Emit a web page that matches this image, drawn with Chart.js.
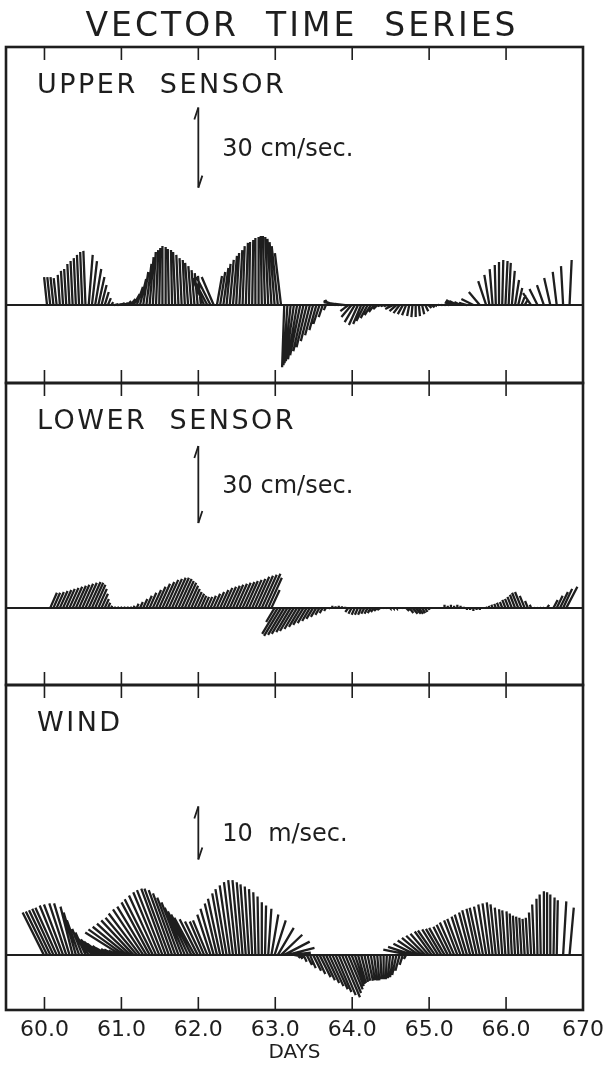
<!DOCTYPE html>
<html>
<head>
<meta charset="utf-8">
<title>Vector time series</title>
<script src="https://cdn.jsdelivr.net/npm/chart.js@4.4.1/dist/chart.umd.min.js"></script>
<style>
	html, body { margin: 0; padding: 0; background: #fff; }
	#wrap { width: 613px; height: 1085px; }
</style>
</head>
<body>
<div id="wrap"><canvas id="vectorChart" width="613" height="1085"></canvas></div>
<script>
(() => {
	'use strict'

	// hourly vectors, first sample at day 59.70
	const startDay = 59.7;
	const stepDays = 1 / 24;

	const dayTicks = [60, 61, 62, 63, 64, 65, 66, 67];
	const dayLabels = ['60.0', '61.0', '62.0', '63.0', '64.0', '65.0', '66.0', '670'];

	// upper sensor, cm/sec (east, north)
	const upperU = [
		null, null, null, null, null, null, null, null, -1.1, -1.1, -1.1, -1.1,
		-0.8, -0.8, -0.8, -0.8, -0.8, -0.8, -0.8, -0.8, -0.8, 1.5, 1.9, 2.3,
		2.3, 1.9, 1.5, 1.1, 0.8, 1.5, 1.5, 1.5, 1.5, 1.5, 1.9, 2.3,
		2.3, 2.3, 1.9, 1.9, 1.5, 1.1, 0.8, 0.4, 0, 0, -0.4, -0.4,
		-0.8, -0.8, -0.8, -0.8, -1.1, -1.1, -1.1, -1.1, -1.1, -4.5, -5.3, -5.3,
		-4.5, 1.9, 1.9, 1.9, 1.5, 1.5, 1.5, 1.1, 1.1, 0.8, 0.8, 0.4,
		0.4, 0, 0, -0.4, -0.8, -1.1, -1.5, -1.9, -2.3, -2.3, -0.8, -1.5,
		-2.3, -3.0, -3.4, -3.8, -3.8, -3.8, -3.4, -3.0, -2.6, -2.3, -1.5, -0.8,
		-1.5, -3.0, -4.5, -5.6, -5.3, -3.8, -3.0, -3.8, -3.8, -3.4, -3.0, -3.0,
		-2.6, -2.3, -1.9, -1.5, -1.1, -1.1, -1.1, -1.1, -3.0, -2.6, -2.3, -1.9,
		-1.5, -0.8, -0.4, 0, 0.4, 0.8, 1.1, 1.1, 1.1, 0.8, 0.4, 0.4,
		0.4, 0.4, -2.3, -3.0, -3.0, -2.3, -1.5, -3.0, null, -4.5, null, -4.1,
		null, -3.0, -1.9, -1.1, -0.4, 0, 0.4, 0.8, 0.8, 1.1, 1.5, 1.5,
		1.5, 1.1, null, -3.0, null, -3.0, null, -2.6, null, -2.3, null, -1.5,
		null, -0.8, null, 0.8, null
	];
	const upperV = [
		null, null, null, null, null, null, null, null, 10.5, 10.5, 10.5, 10.1,
		11.3, 12.8, 13.5, 15.4, 16.5, 17.6, 18.8, 19.9, 20.3, 18.8, 16.5, 13.5,
		10.5, 7.5, 4.9, 2.6, 1.1, 0.4, 0.4, 0.8, 0.8, 1.5, 2.3, 4.1,
		6.8, 9.8, 12.4, 15.4, 18.0, 19.9, 20.6, 21.4, 22.1, 21.8, 21.0, 20.6,
		19.9, 18.8, 17.6, 16.9, 15.8, 14.6, 13.1, 12.0, 10.9, 10.1, 10.1, 10.5,
		10.5, 10.9, 12.4, 13.9, 15.4, 16.9, 18.4, 19.5, 20.6, 22.1, 23.3, 23.6,
		24.4, 25.1, 25.5, 25.9, 25.9, 25.5, 24.8, 23.6, 22.1, 19.5, -23.3, -22.5,
		-21.8, -21.0, -20.3, -18.8, -17.3, -15.8, -13.5, -11.3, -9.4, -7.1, -4.5, -1.9,
		1.9, 1.5, 1.5, 1.1, 0.8, 0.4, -2.3, -4.5, -6.4, -7.5, -7.1, -6.0,
		-4.9, -3.8, -2.6, -1.5, -0.4, -0.4, -0.4, -0.4, -1.5, -2.3, -3.0, -3.4,
		-3.8, -4.1, -4.5, -4.5, -4.1, -3.4, -2.3, -1.1, -0.8, -0.4, 0.1, 0.1,
		0.1, 0.1, 1.1, 1.9, 1.5, 1.1, 0.8, 0.8, null, 2.3, null, 4.9,
		null, 9.0, 11.3, 13.5, 15.0, 16.1, 16.9, 16.5, 15.8, 12.8, 9.4, 6.4,
		3.8, 1.9, null, 4.5, null, 6.0, null, 7.5, null, 10.1, null, 12.4,
		null, 14.6, null, 16.9, null
	];

	// lower sensor, cm/sec
	const lowerU = [
		null, null, null, null, null, null, null, null, null, 2.6, 2.6, 2.8,
		3.0, 3.2, 3.3, 3.5, 3.7, 3.9, 4.0, 4.2, 4.4, 4.6, 4.4, 4.0,
		3.3, 2.5, 1.6, 0.9, 0.4, 0.6, 0.6, 0.6, 0.6, 0.6, 0.6, 0.4,
		0.7, 1.1, 1.6, 2.1, 2.6, 3.2, 3.7, 4.2, 4.6, 4.9, 5.1, 5.3,
		5.3, 5.1, 4.7, 4.4, 3.9, 3.3, 2.8, 2.5, 2.1, 1.9, 1.9, 2.1,
		2.5, 2.8, 3.2, 3.5, 3.7, 3.9, 4.0, 4.2, 4.4, 4.6, 4.7, 4.9,
		5.1, 5.4, 5.6, 5.8, 6.0, 5.3, 3.2, -3.3, -6.1, -6.6, -6.3, -6.1,
		-5.6, -5.4, -4.9, -4.4, -4.0, -3.5, -3.0, -2.6, -2.1, -1.6, -1.2, -0.7,
		-0.2, 0, 0, 0, 0, 0, -1.2, -1.2, -1.2, -1.2, -1.2, -1.2,
		-1.2, -1.2, -1.2, -1.2, -1.2, 0.2, 0.2, 0.2, 0.2, 0.2, 0.2, 0.2,
		1.2, 1.6, 2.0, 2.0, 1.6, 1.2, 0.8, 0.4, 0, 0, 0, 0,
		0, 0, 0, 0, 0, 0, 0, 0, 0, 0, 0, 0,
		0, -0.2, -0.3, -0.5, -0.6, -0.8, -0.9, -1.2, -1.4, -1.7, -2.0, -2.4,
		-2.5, -1.9, -1.1, -0.5, 0.2, 0.2, 0.2, 0.2, 0.8, null, 1.6, 2.3,
		3.1, 3.5, 4.3, null, null
	];
	const lowerV = [
		null, null, null, null, null, null, null, null, null, 5.9, 5.9, 6.2,
		6.6, 7.0, 7.4, 7.8, 8.2, 8.6, 9.0, 9.4, 9.8, 10.1, 9.8, 9.0,
		7.4, 5.5, 3.5, 2.0, 0.8, 0.2, 0.2, 0.2, 0.2, 0.2, 0.2, 0.8,
		1.6, 2.3, 3.5, 4.7, 5.9, 7.0, 8.2, 9.4, 10.1, 10.9, 11.3, 11.7,
		11.7, 11.3, 10.5, 9.8, 8.6, 7.4, 6.2, 5.5, 4.7, 4.3, 4.3, 4.7,
		5.5, 6.2, 7.0, 7.8, 8.2, 8.6, 9.0, 9.4, 9.8, 10.1, 10.5, 10.9,
		11.3, 12.1, 12.5, 12.9, 13.3, 11.7, 7.0, -5.5, -10.1, -10.9, -10.5, -10.1,
		-9.4, -9.0, -8.2, -7.4, -6.6, -5.9, -5.1, -4.3, -3.5, -2.7, -2.0, -1.2,
		-0.4, 0.8, 0.6, 0.8, 0.6, 0.4, -1.6, -2.3, -2.7, -2.7, -2.7, -2.3,
		-2.3, -2.0, -1.6, -1.2, -0.8, -0.2, -0.2, -0.2, -0.2, -0.2, -0.2, -0.2,
		-1.2, -2.0, -2.3, -2.3, -2.3, -2.0, -1.6, -0.8, -0.4, -0.4, -0.4, -0.4,
		1.2, 0.8, 1.2, 0.8, 1.2, 0.8, 0.4, -0.8, -0.8, -1.2, -0.8, -0.8,
		-0.4, 0.4, 0.8, 1.2, 1.6, 2.0, 2.3, 3.1, 3.5, 4.3, 5.1, 5.9,
		6.2, 4.7, 2.7, 1.2, 0.2, 0.2, 0.2, 0.2, 1.2, null, 3.1, 4.7,
		6.2, 7.4, 8.2, null, null
	];

	// wind, m/sec
	const windU = [
		null, null, null, null, null, null, null, -4.0, -4.0, -4.0, -4.0, -4.0,
		-3.8, -3.6, -3.2, -2.9, -2.3, -2.3, -2.3, -1.9, -1.9, -2.7, -2.7, -2.7,
		-2.7, -2.7, -2.3, -2.3, -1.9, -1.9, -1.7, -6.7, -6.7, -6.5, -6.3, -6.1,
		-5.9, -5.9, -5.7, -5.5, -5.3, -5.3, -5.1, -4.9, -4.8, -4.6, -4.6, -4.4,
		-4.2, -4.0, -3.8, -3.8, -3.8, -3.8, -3.8, -3.4, -3.0, -2.7, -2.7, -2.5,
		-2.5, -2.3, -2.3, -2.1, -2.1, -1.9, -1.7, -1.5, -1.3, -1.1, -1.0, -0.8,
		-0.6, -0.4, -0.2, 0, 0.2, 0.6, 1.3, 2.1, 3.0, 4.0, 4.8, 5.1,
		3.8, 1.9, 0.6, 0.4, 0.6, 1.0, 1.1, 1.5, 1.7, 2.1, 2.3, 2.5,
		2.7, 2.9, 3.0, 3.2, 3.4, 3.0, 2.7, 2.3, 1.9, 1.5, 1.3, 1.1,
		1.0, 0.8, 0.6, 0.4, 0.2, 0, -0.2, -0.4, -0.6, -0.8, -0.8, -0.6,
		-0.4, -4.9, -4.6, -4.2, -4.0, -3.8, -3.6, -3.4, -3.2, -3.2, -3.0, -2.9,
		-2.9, -2.7, -2.7, -2.7, -2.5, -2.5, -2.3, -2.3, -2.1, -2.1, -1.9, -1.9,
		-1.7, -1.5, -1.3, -1.1, -1.0, -0.8, -0.6, -0.6, -0.4, -0.4, -0.4, -0.4,
		-0.4, -0.4, -0.4, -0.4, -0.4, -0.2, -0.2, 0, 0, 0, 0.2, 0.2,
		null, 0.6, null, 0.8, null
	];
	const windV = [
		null, null, null, null, null, null, null, 8.0, 8.2, 8.4, 8.7, 8.9,
		9.3, 9.5, 9.7, 9.7, 9.1, 8.0, 6.5, 4.9, 4.2, 3.6, 3.2, 2.9,
		2.5, 2.1, 1.7, 1.3, 1.1, 1.0, 0.8, 4.2, 4.8, 5.3, 5.9, 6.5,
		7.0, 7.8, 8.6, 9.1, 9.9, 10.5, 11.2, 11.8, 12.2, 12.5, 12.5, 12.2,
		11.6, 10.8, 9.9, 8.9, 8.2, 7.6, 7.0, 6.7, 6.3, 6.3, 6.5, 7.6,
		8.7, 9.7, 10.6, 11.6, 12.4, 13.1, 13.7, 14.1, 14.1, 13.7, 13.3, 12.9,
		12.4, 11.8, 11.0, 9.9, 9.3, 8.7, 7.6, 6.5, 5.1, 3.8, 2.5, 1.3,
		0.4, -0.4, -0.6, -0.8, -1.3, -1.9, -2.5, -3.0, -3.6, -4.2, -4.8, -5.3,
		-5.9, -6.5, -7.0, -7.6, -8.0, -7.2, -6.5, -5.9, -5.5, -5.3, -5.1, -4.9,
		-4.9, -4.8, -4.8, -4.8, -4.6, -4.6, -4.6, -4.4, -4.2, -3.8, -3.0, -1.9,
		-0.8, 1.0, 1.5, 2.1, 2.7, 3.2, 3.6, 4.0, 4.4, 4.6, 4.8, 4.9,
		5.1, 5.3, 5.7, 6.1, 6.5, 6.8, 7.2, 7.6, 8.0, 8.4, 8.7, 8.9,
		9.1, 9.5, 9.7, 9.9, 9.5, 8.9, 8.6, 8.4, 8.2, 7.8, 7.4, 7.2,
		7.0, 6.8, 7.0, 8.0, 9.5, 10.6, 11.4, 12.0, 11.8, 11.4, 10.8, 10.3,
		null, 10.1, null, 8.9, null
	];

	// y extent of each panel in its own units, and the scale bars
	const upperRange = [-29.2, 96.7];
	const lowerRange = [-30, 87.5];
	const windRange = [-10.4, 50.9];
	const scaleBarDay = 62.0;
	const upperBar = [44, 74];
	const lowerBar = [33, 63];
	const windBar = [18, 28];

	const ink = '#1e1e1e';
	const fontFamily = '"DejaVu Sans", "Liberation Sans", sans-serif';

	const panels = [
		{ id: 'yUpper', name: 'UPPER  SENSOR', unit: '30 cm/sec.', u: upperU, v: upperV, range: upperRange, bar: upperBar, height: 336, order: 3 },
		{ id: 'yLower', name: 'LOWER  SENSOR', unit: '30 cm/sec.', u: lowerU, v: lowerV, range: lowerRange, bar: lowerBar, height: 302, order: 2 },
		{ id: 'yWind', name: 'WIND', unit: '10  m/sec.', u: windU, v: windV, range: windRange, bar: windBar, height: 325, order: 1 }
	];

	Chart.defaults.font.family = fontFamily;
	Chart.defaults.color = ink;

	function panelScale(panel) {
		return {
			type: 'linear',
			position: 'left',
			stack: 'panels',
			stackWeight: panel.height,
			weight: panel.order,
			min: panel.range[0],
			max: panel.range[1],
			afterBuildTicks: (axis) => {
				axis.ticks = [{ value: 0 }];
			},
			ticks: { display: false },
			grid: { color: ink, lineWidth: 2, drawTicks: false },
			border: { display: false }
		};
	}

	const scales = {
		x: {
			type: 'linear',
			position: 'bottom',
			min: 59.5,
			max: 67.0,
			afterBuildTicks: (axis) => {
				axis.ticks = dayTicks.map((value) => ({ value }));
			},
			ticks: {
				autoSkip: false,
				maxRotation: 0,
				padding: 9,
				font: { size: 22, lineHeight: 1 },
				callback: (value, index) => dayLabels[index]
			},
			grid: { display: false, drawTicks: false },
			border: { display: false },
			title: { display: true, text: 'DAYS', font: { size: 20, lineHeight: 1 }, padding: { top: -7, bottom: 0 } }
		}
	};
	panels.slice().reverse().forEach((panel) => {
		scales[panel.id] = panelScale(panel);
	});

	const stickSets = panels.map((panel) => ({
		label: panel.name,
		data: [],
		yAxisID: panel.id,
		showLine: true,
		spanGaps: false,
		borderColor: ink,
		borderWidth: 2.3,
		pointRadius: 0
	}));
	const barSets = panels.map((panel) => ({
		label: panel.unit,
		data: panel.bar.map((value) => ({ x: scaleBarDay, y: value })),
		yAxisID: panel.id,
		showLine: true,
		borderColor: ink,
		borderWidth: 1.8,
		pointRadius: 0
	}));

	const framePlugin = {
		id: 'panelFrames',
		afterDraw(chart) {
			const { ctx, chartArea } = chart;
			const xScale = chart.scales.x;
			ctx.save();
			ctx.strokeStyle = ink;
			ctx.fillStyle = ink;

			// title
			ctx.font = `33px ${fontFamily}`;
			ctx.letterSpacing = '3px';
			ctx.textAlign = 'center';
			ctx.textBaseline = 'middle';
			ctx.fillText('VECTOR  TIME  SERIES', 302, 27);

			panels.forEach((panel, index) => {
				const yScale = chart.scales[panel.id];

				ctx.lineWidth = 2.6;
				ctx.strokeRect(chartArea.left, yScale.top, chartArea.right - chartArea.left, yScale.bottom - yScale.top);

				ctx.lineWidth = 1.6;
				ctx.beginPath();
				dayTicks.slice(0, -1).forEach((day) => {
					const px = xScale.getPixelForValue(day);
					ctx.moveTo(px, yScale.top);
					ctx.lineTo(px, yScale.top + 13);
					ctx.moveTo(px, yScale.bottom);
					ctx.lineTo(px, yScale.bottom - 13);
				});
				ctx.stroke();

				// scale bar barbs
				const meta = chart.getDatasetMeta(panels.length + index);
				const bottom = meta.data[0];
				const top = meta.data[1];
				ctx.lineWidth = 1.8;
				ctx.beginPath();
				ctx.moveTo(top.x, top.y);
				ctx.lineTo(top.x - 4, top.y + 12);
				ctx.moveTo(bottom.x, bottom.y);
				ctx.lineTo(bottom.x + 4, bottom.y - 12);
				ctx.stroke();

				ctx.textAlign = 'left';
				ctx.textBaseline = 'alphabetic';
				ctx.font = `27px ${fontFamily}`;
				ctx.letterSpacing = '2.5px';
				ctx.fillText(panel.name, chartArea.left + 31, yScale.top + 46);

				ctx.font = `24px ${fontFamily}`;
				ctx.letterSpacing = '0px';
				ctx.textBaseline = 'middle';
				ctx.fillText(panel.unit, top.x + 24, (top.y + bottom.y) / 2 + 2);
			});
			ctx.restore();
		}
	};

	const chart = new Chart(document.getElementById('vectorChart'), {
		type: 'scatter',
		data: { datasets: stickSets.concat(barSets) },
		options: {
			responsive: false,
			animation: false,
			events: [],
			layout: { padding: { left: 6, right: 29, top: 47, bottom: 22 } },
			plugins: {
				legend: { display: false },
				tooltip: { enabled: false }
			},
			scales
		},
		plugins: [framePlugin]
	});

	// sticks run from (day, 0) to the vector tip; east is converted to days so that
	// both components share the panel's vertical scale
	function buildSticks(panel) {
		const xScale = chart.scales.x;
		const yScale = chart.scales[panel.id];
		const pxPerDay = xScale.getPixelForValue(61) - xScale.getPixelForValue(60);
		const pxPerUnit = yScale.getPixelForValue(0) - yScale.getPixelForValue(1);
		const daysPerUnit = pxPerUnit / pxPerDay;
		const points = [];

		panel.u.forEach((u, i) => {
			const v = panel.v[i];
			if (u === null || v === null) {
				return;
			}
			const day = startDay + i * stepDays;
			points.push({ x: day, y: 0 }, { x: day + u * daysPerUnit, y: v }, { x: day, y: null });
		});

		return points;
	}

	panels.forEach((panel, index) => {
		chart.data.datasets[index].data = buildSticks(panel);
	});
	chart.update();
})()
</script>
</body>
</html>
